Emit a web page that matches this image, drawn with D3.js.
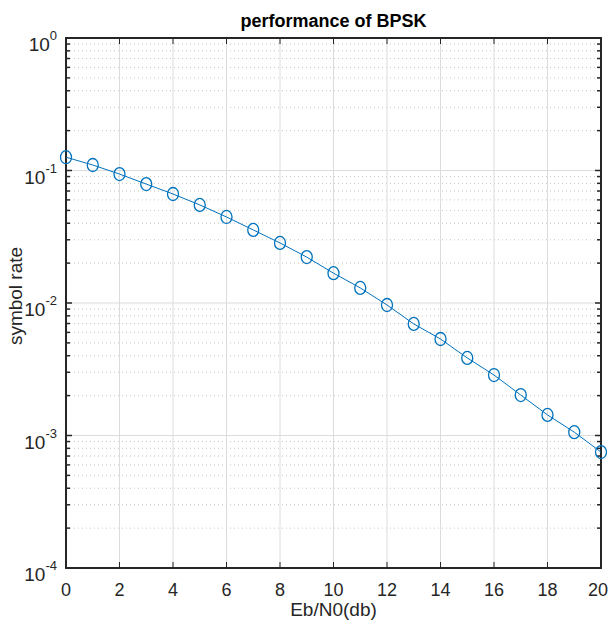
<!DOCTYPE html>
<html>
<head>
<meta charset="utf-8">
<title>performance of BPSK</title>
<script src="https://d3js.org/d3.v7.min.js"></script>
<style>
  body { margin: 0; background: #fff; }
  text { font-family: "Liberation Sans", Arial, sans-serif; fill: #262626; }
</style>
</head>
<body>
<div id="chart"></div>
<script>
// data
var ebn0 = [0, 1, 2, 3, 4, 5, 6, 7, 8, 9, 10, 11, 12, 13, 14, 15, 16, 17, 18, 19, 20];
var ser = [0.126, 0.110, 0.094, 0.079, 0.0665, 0.055, 0.0446, 0.0356, 0.0284, 0.0222, 0.0168,
           0.0130, 0.00966, 0.00695, 0.00535, 0.00385, 0.00286, 0.00202, 0.00143, 0.00106, 0.00075];
var xTicks = [0, 2, 4, 6, 8, 10, 12, 14, 16, 18, 20];
var yDecades = [-4, -3, -2, -1, 0];

var W = 609, H = 632;
var margin = {top: 38, right: 8, bottom: 64, left: 66};
var width = W - margin.left - margin.right,
    height = H - margin.top - margin.bottom;

var svg = d3.select("#chart").append("svg")
    .attr("width", W)
    .attr("height", H);

var g = svg.append("g")
    .attr("transform", "translate(" + margin.left + "," + margin.top + ")");

var x = d3.scaleLinear().domain([0, 20]).range([0, width]);
var y = d3.scaleLog().domain([1e-4, 1]).range([height, 0]);

// minor values 2..9 in each decade
var minor = [];
yDecades.slice(0, -1).forEach(function(e) {
  for (var k = 2; k <= 9; k++) minor.push(k * Math.pow(10, e));
});

// grid
g.append("g").selectAll("line.minor")
  .data(minor).enter().append("line")
    .attr("x1", 0).attr("x2", width)
    .attr("y1", d => y(d)).attr("y2", d => y(d))
    .attr("stroke", "#c4c4c4")
    .attr("stroke-width", 1)
    .attr("stroke-dasharray", "1,3");

g.append("g").selectAll("line")
  .data(xTicks).enter().append("line")
    .attr("x1", d => x(d)).attr("x2", d => x(d))
    .attr("y1", 0).attr("y2", height)
    .attr("stroke", "#dcdcdc");

g.append("g").selectAll("line")
  .data(yDecades.map(e => Math.pow(10, e))).enter().append("line")
    .attr("x1", 0).attr("x2", width)
    .attr("y1", d => y(d)).attr("y2", d => y(d))
    .attr("stroke", "#dcdcdc");

// axes with inward ticks
var tickLen = 6, minorLen = 4;
var axes = g.append("g").attr("stroke", "#262626");

xTicks.forEach(function(d) {
  axes.append("line").attr("x1", x(d)).attr("x2", x(d)).attr("y1", height).attr("y2", height - tickLen);
  axes.append("line").attr("x1", x(d)).attr("x2", x(d)).attr("y1", 0).attr("y2", tickLen);
});
yDecades.forEach(function(e) {
  var yy = y(Math.pow(10, e));
  axes.append("line").attr("x1", 0).attr("x2", tickLen).attr("y1", yy).attr("y2", yy).attr("stroke-width", 1.5);
  axes.append("line").attr("x1", width).attr("x2", width - tickLen).attr("y1", yy).attr("y2", yy).attr("stroke-width", 1.5);
});
minor.forEach(function(d) {
  axes.append("line").attr("x1", 0).attr("x2", minorLen).attr("y1", y(d)).attr("y2", y(d)).attr("stroke-width", 1.5);
  axes.append("line").attr("x1", width).attr("x2", width - minorLen).attr("y1", y(d)).attr("y2", y(d)).attr("stroke-width", 1.5);
});

axes.append("rect")
    .attr("width", width).attr("height", height)
    .attr("fill", "none")
    .attr("stroke-width", 2);

// tick labels
var xl = g.append("g").selectAll("text")
  .data(xTicks).enter().append("text")
    .attr("x", d => x(d))
    .attr("y", height + 28)
    .attr("text-anchor", "middle")
    .style("font-size", "18px")
    .text(d => d);
// keep the last label inside the window
xl.each(function(d) {
  var w = this.getComputedTextLength();
  var maxX = W - margin.left - 1 - w / 2;
  if (x(d) > maxX) d3.select(this).attr("x", maxX);
});

var yl = g.append("g").selectAll("text")
  .data(yDecades).enter().append("text")
    .attr("x", -9)
    .attr("y", e => y(Math.pow(10, e)) + 13)
    .attr("text-anchor", "end")
    .style("font-size", "19px");
yl.append("tspan").text("10");
yl.append("tspan")
    .attr("dy", -11)
    .style("font-size", "13px")
    .text(e => e);

// series
var line = d3.line()
    .x((d, i) => x(ebn0[i]))
    .y(d => y(d));

g.append("path")
    .datum(ser)
    .attr("fill", "none")
    .attr("stroke", "#0072bd")
    .attr("stroke-width", 1)
    .attr("d", line);

g.append("g").selectAll("ellipse")
  .data(ser).enter().append("ellipse")
    .attr("cx", (d, i) => x(ebn0[i]))
    .attr("cy", d => y(d))
    .attr("rx", 5.5)
    .attr("ry", 6.5)
    .attr("fill", "none")
    .attr("stroke", "#0072bd")
    .attr("stroke-width", 1.3);

// titles
svg.append("text")
    .attr("x", margin.left + width / 2)
    .attr("y", 27)
    .attr("text-anchor", "middle")
    .style("font-size", "18px")
    .style("font-weight", "bold")
    .style("fill", "#000")
    .text("performance of BPSK");

svg.append("text")
    .attr("x", margin.left + width / 2)
    .attr("y", 616)
    .attr("text-anchor", "middle")
    .style("font-size", "19px")
    .text("Eb/N0(db)");

svg.append("text")
    .attr("transform", "translate(22,296) rotate(-90)")
    .attr("text-anchor", "middle")
    .style("font-size", "19px")
    .text("symbol rate");
</script>
</body>
</html>
